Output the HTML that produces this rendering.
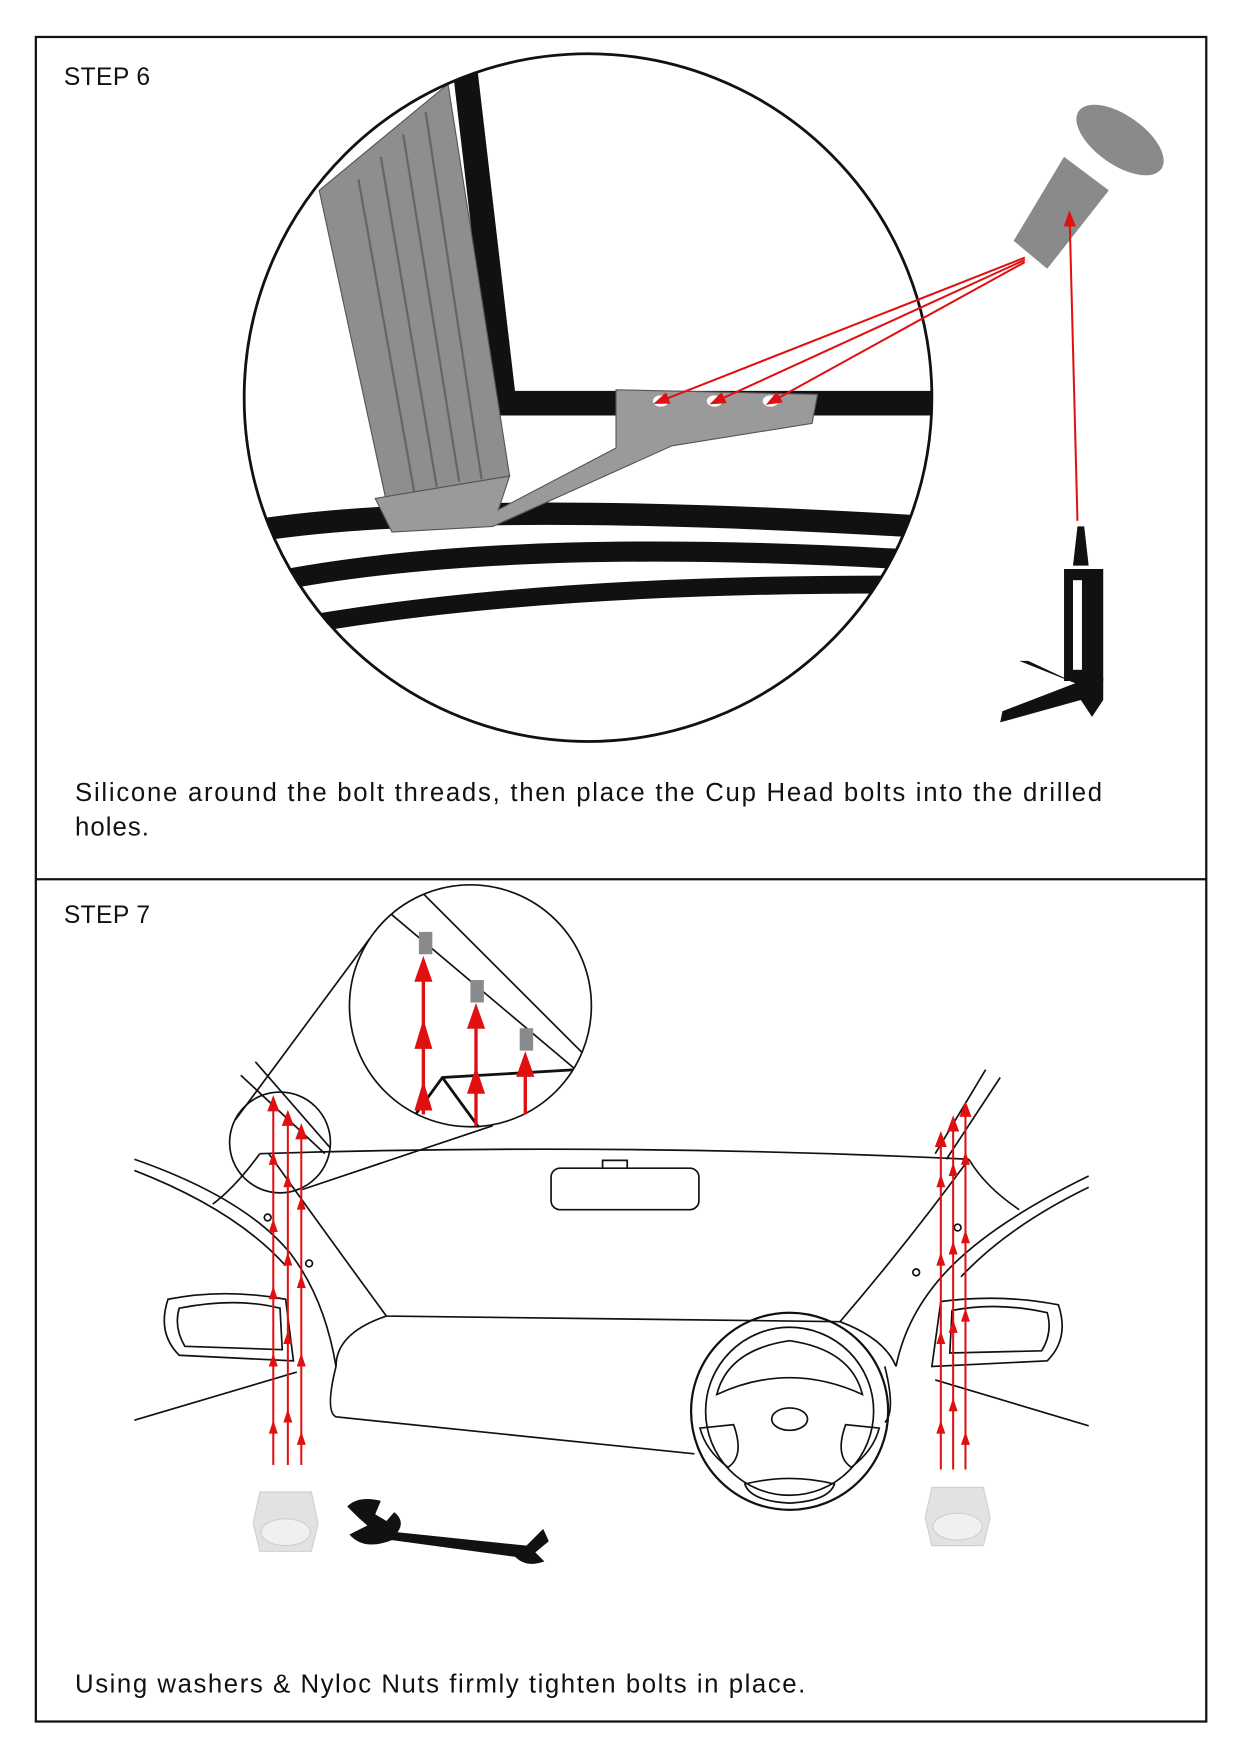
<!DOCTYPE html>
<html><head><meta charset="utf-8"><style>
html,body{margin:0;padding:0;background:#fff}
svg{display:block}
text{font-family:"Liberation Sans",sans-serif;fill:#111}
</style></head><body>
<svg width="1241" height="1754" viewBox="0 0 1108 1566" preserveAspectRatio="none" xmlns="http://www.w3.org/2000/svg">
<defs>
<clipPath id="c6"><circle cx="525" cy="355" r="307"/></clipPath>
<clipPath id="c7"><circle cx="420" cy="898" r="108"/></clipPath>
<marker id="ar" markerWidth="8" markerHeight="8" refX="4" refY="4" orient="auto"><path d="M0,1 L8,4 L0,7z" fill="#e01010"/></marker>
</defs>
<rect x="32" y="33" width="1045" height="1504" fill="none" stroke="#111" stroke-width="2"/>
<line x1="32" y1="785" x2="1077" y2="785" stroke="#111" stroke-width="2"/>
<text x="57" y="76" font-size="22" textLength="77" lengthAdjust="spacing">STEP 6</text>
<text x="67" y="715" font-size="23" textLength="917" lengthAdjust="spacing">Silicone around the bolt threads, then place the Cup Head bolts into the drilled</text>
<text x="67" y="746" font-size="23" textLength="66" lengthAdjust="spacing">holes.</text>
<text x="57" y="824" font-size="22" textLength="77" lengthAdjust="spacing">STEP 7</text>
<text x="67" y="1511" font-size="23" textLength="652" lengthAdjust="spacing">Using washers &amp; Nyloc Nuts firmly tighten bolts in place.</text>

<!-- STEP 6 circle -->
<g clip-path="url(#c6)">
<path d="M415,60 L450,360 L840,360" fill="none" stroke="#111" stroke-width="22"/>
<path d="M220,475 Q400,445 820,470" fill="none" stroke="#111" stroke-width="20"/>
<path d="M240,520 Q450,478 820,500" fill="none" stroke="#111" stroke-width="18"/>
<path d="M260,560 Q480,520 820,522" fill="none" stroke="#111" stroke-width="16"/>
<polygon points="285,170 400,75 455,425 345,448" fill="#8e8e8e" stroke="#555"/>
<path d="M320,160 L370,440 M340,140 L390,435 M360,120 L410,430 M380,100 L430,428" stroke="#666" stroke-width="2"/>
<polygon points="335,445 455,425 445,455 550,400 550,348 730,352 725,378 600,398 440,470 350,475" fill="#9a9a9a" stroke="#555"/>
</g>
<circle cx="525" cy="355" r="307" fill="none" stroke="#111" stroke-width="2.5"/>
<ellipse cx="590" cy="358" rx="7" ry="5" fill="#fff"/><ellipse cx="638" cy="358" rx="7" ry="5" fill="#fff"/><ellipse cx="688" cy="358" rx="7" ry="5" fill="#fff"/>
<!-- bolt -->
<g fill="#8a8a8a">
<ellipse cx="1000" cy="125" rx="45" ry="22" transform="rotate(35 1000 125)"/>
<polygon points="950,140 990,170 935,240 905,215"/>
</g>
<g stroke="#e01010" stroke-width="1.8" fill="none">
<line x1="915" y1="230" x2="590" y2="358" marker-end="url(#ar)"/>
<line x1="915" y1="232" x2="640" y2="358" marker-end="url(#ar)"/>
<line x1="915" y1="234" x2="690" y2="358" marker-end="url(#ar)"/>
<line x1="962" y1="465" x2="955" y2="195" marker-end="url(#ar)"/>
</g>
<!-- silicone gun -->
<polygon points="962,470 968,470 972,505 958,505" fill="#111"/>
<rect x="950" y="508" width="35" height="100" fill="#111"/>
<rect x="958" y="518" width="8" height="80" fill="#fff"/>
<polygon points="910,590 960,610 895,635 893,645 965,625 975,640 985,625 985,605 950,605 918,590" fill="#111"/>

<!-- STEP 7 -->
<g fill="none" stroke="#111" stroke-width="1.5">
<circle cx="420" cy="898" r="108"/>
<circle cx="250" cy="1020" r="45"/>
<line x1="210" y1="1000" x2="330" y2="838"/>
<line x1="270" y1="1062" x2="440" y2="1005"/>
<g clip-path="url(#c7)">
<line x1="330" y1="800" x2="520" y2="960"/>
<line x1="370" y1="790" x2="540" y2="960"/>
<path d="M360,1010 L395,962 L515,955 M395,962 L430,1010" stroke-width="2.5"/>
</g>
<line x1="215" y1="960" x2="290" y2="1030"/><line x1="228" y1="948" x2="295" y2="1025"/>
<line x1="835" y1="1030" x2="880" y2="955"/><line x1="845" y1="1035" x2="893" y2="962"/>
<path d="M232,1030 Q550,1020 865,1035"/>
<path d="M232,1030 Q210,1060 190,1075 M865,1035 Q880,1060 910,1080"/>
<path d="M120,1035 Q220,1070 260,1120 Q290,1160 300,1220"/>
<path d="M120,1045 Q210,1080 255,1130"/>
<path d="M240,1030 Q290,1100 345,1175 L750,1180 Q810,1110 865,1035"/>
<path d="M972,1050 Q890,1090 850,1130 Q810,1170 800,1220"/>
<path d="M972,1060 Q900,1095 858,1140"/>
<path d="M300,1220 Q290,1260 300,1265 L620,1298"/>
<path d="M790,1220 Q800,1260 790,1270"/>
<path d="M345,1175 Q300,1190 300,1220 M750,1180 Q790,1195 800,1220"/>
<path d="M120,1268 L265,1225 M972,1273 L835,1232"/>
<rect x="492" y="1043" width="132" height="37" rx="8"/>
<path d="M538,1043 L538,1036 L560,1036 L560,1043"/>
<path d="M150,1160 Q200,1150 255,1160 L262,1215 L160,1210 Q140,1190 150,1160z"/>
<path d="M160,1168 Q210,1158 250,1168 L252,1205 L165,1202 Q155,1185 160,1168z"/>
<path d="M945,1165 Q895,1155 840,1162 L832,1220 L935,1215 Q955,1195 945,1165z"/>
<path d="M935,1172 Q890,1162 850,1170 L848,1208 L930,1206 Q940,1190 935,1172z"/>
<circle cx="705" cy="1260" r="88" stroke-width="2"/>
<circle cx="705" cy="1260" r="75"/>
<ellipse cx="705" cy="1267" rx="16" ry="10"/>
<path d="M640,1245 Q705,1215 770,1245 Q760,1205 705,1197 Q650,1205 640,1245z"/>
<path d="M625,1275 L655,1272 Q665,1300 650,1310 Q630,1295 625,1275z"/>
<path d="M785,1275 L755,1272 Q745,1300 760,1310 Q780,1295 785,1275z"/>
<path d="M665,1325 Q705,1315 745,1325 Q740,1340 705,1342 Q670,1340 665,1325z"/>
<circle cx="239" cy="1087" r="3"/><circle cx="276" cy="1128" r="3"/>
<circle cx="818" cy="1136" r="3"/><circle cx="855" cy="1096" r="3"/>
</g>
<!-- zoom bolts -->
<g fill="#8a8a8a"><rect x="374" y="832" width="12" height="20"/><rect x="420" y="875" width="12" height="20"/><rect x="464" y="918" width="12" height="20"/></g>
<g stroke="#e01010" stroke-width="3" fill="#e01010">
<line x1="378" y1="995" x2="378" y2="860"/><polygon points="372,875 384,875 378,858"/><polygon points="372,935 384,935 378,915"/><polygon points="372,990 384,990 378,970"/>
<line x1="425" y1="1005" x2="425" y2="902"/><polygon points="419,917 431,917 425,900"/><polygon points="419,975 431,975 425,957"/>
<line x1="469" y1="995" x2="469" y2="945"/><polygon points="463,960 475,960 469,943"/>
</g>
<!-- red vertical lines -->
<g stroke="#e01010" stroke-width="1.8">
<line x1="244" y1="1308" x2="244" y2="985" marker-end="url(#ar)"/>
<line x1="257" y1="1308" x2="257" y2="998" marker-end="url(#ar)"/>
<line x1="269" y1="1308" x2="269" y2="1010" marker-end="url(#ar)"/>
<line x1="840" y1="1312" x2="840" y2="1017" marker-end="url(#ar)"/>
<line x1="851" y1="1312" x2="851" y2="1003" marker-end="url(#ar)"/>
<line x1="862" y1="1312" x2="862" y2="990" marker-end="url(#ar)"/>
</g>
<g fill="#e01010">
<polygon points="240,1040 248,1040 244,1028"/><polygon points="240,1100 248,1100 244,1088"/><polygon points="240,1160 248,1160 244,1148"/><polygon points="240,1220 248,1220 244,1208"/><polygon points="240,1280 248,1280 244,1268"/>
<polygon points="253,1060 261,1060 257,1048"/><polygon points="253,1130 261,1130 257,1118"/><polygon points="253,1200 261,1200 257,1188"/><polygon points="253,1270 261,1270 257,1258"/>
<polygon points="265,1080 273,1080 269,1068"/><polygon points="265,1150 273,1150 269,1138"/><polygon points="265,1220 273,1220 269,1208"/><polygon points="265,1290 273,1290 269,1278"/>
<polygon points="836,1060 844,1060 840,1048"/><polygon points="836,1130 844,1130 840,1118"/><polygon points="836,1200 844,1200 840,1188"/><polygon points="836,1280 844,1280 840,1268"/>
<polygon points="847,1050 855,1050 851,1038"/><polygon points="847,1120 855,1120 851,1108"/><polygon points="847,1190 855,1190 851,1178"/><polygon points="847,1260 855,1260 851,1248"/>
<polygon points="858,1040 866,1040 862,1028"/><polygon points="858,1110 866,1110 862,1098"/><polygon points="858,1180 866,1180 862,1168"/><polygon points="858,1290 866,1290 862,1278"/>
</g>
<!-- nuts -->
<g fill="#e2e2e2" stroke="#cfcfcf">
<polygon points="232,1332 278,1332 284,1360 278,1385 232,1385 226,1360"/>
<ellipse cx="255" cy="1368" rx="22" ry="12" fill="#f0f0f0"/>
<polygon points="832,1328 878,1328 884,1355 878,1380 832,1380 826,1355"/>
<ellipse cx="855" cy="1363" rx="22" ry="12" fill="#f0f0f0"/>
</g>
<!-- wrench -->
<path d="M310,1345 Q320,1335 340,1340 L335,1352 L345,1358 L352,1350 Q362,1358 355,1368 L470,1380 L485,1365 L490,1376 L478,1386 L486,1394 Q470,1400 460,1390 L350,1375 Q325,1385 312,1370 L328,1362 L320,1355z" fill="#111"/>
</svg>
</body></html>
